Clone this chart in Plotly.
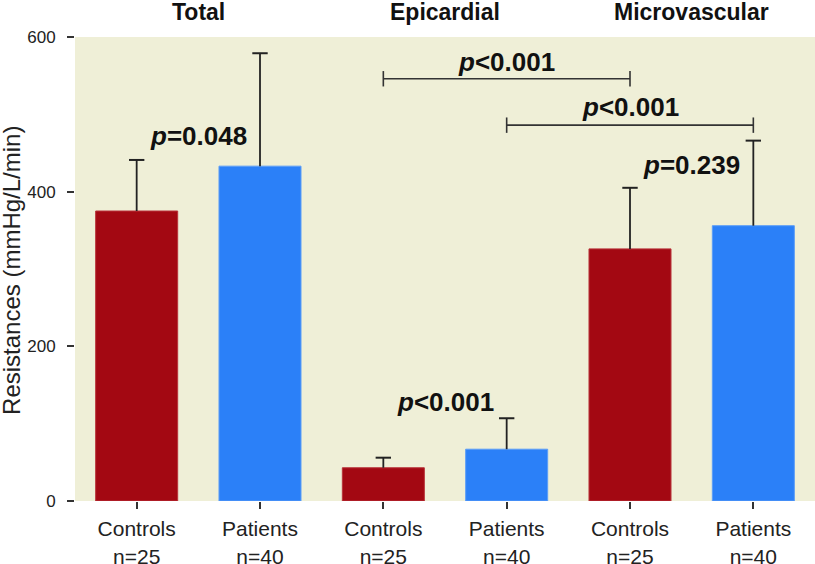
import plotly.graph_objects as go

# ---- data ----
group_names = ["Controls", "Patients", "Controls", "Patients", "Controls", "Patients"]
n_labels = ["n=25", "n=40", "n=25", "n=40", "n=25", "n=40"]
group_titles = ["Total", "Epicardial", "Microvascular"]
means = [375, 433, 43, 67, 326, 356]
sd_up = [66, 146, 13, 40, 79, 110]
bar_colors = ["#A30812", "#2B80F8", "#A30812", "#2B80F8", "#A30812", "#2B80F8"]
edge_colors = ["#B8333A", "#5C9DF7", "#B8333A", "#5C9DF7", "#B8333A", "#5C9DF7"]
y_ticks = [0, 200, 400, 600]

# p-value annotations: (x position between bars, y value, text)
p_x = [0.5, 2.5, 4.5, 3, 4]
p_y = [472, 128, 435, 568, 510]
p_text = ["p=0.048", "p<0.001", "p=0.239", "p<0.001", "p<0.001"]

# comparison brackets: start index, end index, y value
br_start = [2, 3]
br_end = [4, 5]
br_y = [546, 486]

xpos = list(range(len(group_names)))
tops = [m + s for m, s in zip(means, sd_up)]
tick_text = [g + "<br>" + n for g, n in zip(group_names, n_labels)]

fig = go.Figure()
fig.add_trace(go.Bar(
    x=xpos, y=means, width=0.665,
    marker=dict(color=bar_colors, line=dict(color=edge_colors, width=1)),
    showlegend=False,
))

# one-sided error bars: stems from mean to mean+sd, cap only at top
stem_x, stem_y = [], []
for xv, m, t in zip(xpos, means, tops):
    stem_x += [xv, xv, None]
    stem_y += [m, t, None]
fig.add_trace(go.Scatter(
    x=stem_x, y=stem_y, mode="lines",
    line=dict(color="#222222", width=1.8),
    showlegend=False, hoverinfo="skip",
))
fig.add_trace(go.Scatter(
    x=xpos, y=tops, mode="markers",
    marker=dict(symbol="line-ew", size=11,
                line=dict(color="#222222", width=2)),
    showlegend=False, hoverinfo="skip",
))

for s, e, yv in zip(br_start, br_end, br_y):
    fig.add_trace(go.Scatter(
        x=[s, e], y=[yv, yv], mode="lines+markers",
        line=dict(color="#333333", width=1.6),
        marker=dict(symbol="line-ns", size=11,
                    line=dict(color="#333333", width=1.6)),
        showlegend=False, hoverinfo="skip",
    ))

regular = "Liberation Sans, Arial, sans-serif"

annotations = []
for xv, yv, t in zip(p_x, p_y, p_text):
    annotations.append(dict(
        x=xv, y=yv, xref="x", yref="y",
        text="<b><i>" + t[0] + "</i>" + t[1:] + "</b>",
        showarrow=False, xanchor="center", yanchor="middle",
        font=dict(family=regular, size=26, color="#111111"),
    ))
for i, gt in enumerate(group_titles):
    annotations.append(dict(
        x=2 * i + 0.5, y=1.053, xref="x", yref="paper",
        text="<b>" + gt + "</b>", showarrow=False,
        xanchor="center", yanchor="middle",
        font=dict(family=regular, size=23, color="#111111"),
    ))
annotations.append(dict(
    x=-0.085, y=0.496, xref="paper", yref="paper",
    text="Resistances (mmHg/L/min)", textangle=-90, showarrow=False,
    xanchor="center", yanchor="middle",
    font=dict(family=regular, size=24, color="#222222"),
))

fig.update_layout(
    width=815, height=564,
    margin=dict(l=75, r=0, t=37, b=63),
    paper_bgcolor="white", plot_bgcolor="#EFEFD7",
    annotations=annotations,
    xaxis=dict(
        tickmode="array", tickvals=xpos, ticktext=tick_text,
        range=[-0.5, 5.5], ticks="outside", ticklen=7, tickwidth=1.5,
        tickcolor="#333333", showgrid=False, zeroline=False, showline=False,
        automargin=False, ticklabelstandoff=2,
        tickfont=dict(family=regular, size=21, color="#222222"),
    ),
    yaxis=dict(
        tickmode="array", tickvals=y_ticks, range=[0, 600],
        ticks="outside", ticklen=7, tickwidth=1.5, tickcolor="#333333",
        showgrid=False, zeroline=False, showline=False,
        ticklabelstandoff=8, automargin=False,
        tickfont=dict(family=regular, size=17, color="#222222"),
    ),
)

fig.write_html("out.html", config={"displayModeBar": False},
               post_script="document.body.style.margin='0px';")
